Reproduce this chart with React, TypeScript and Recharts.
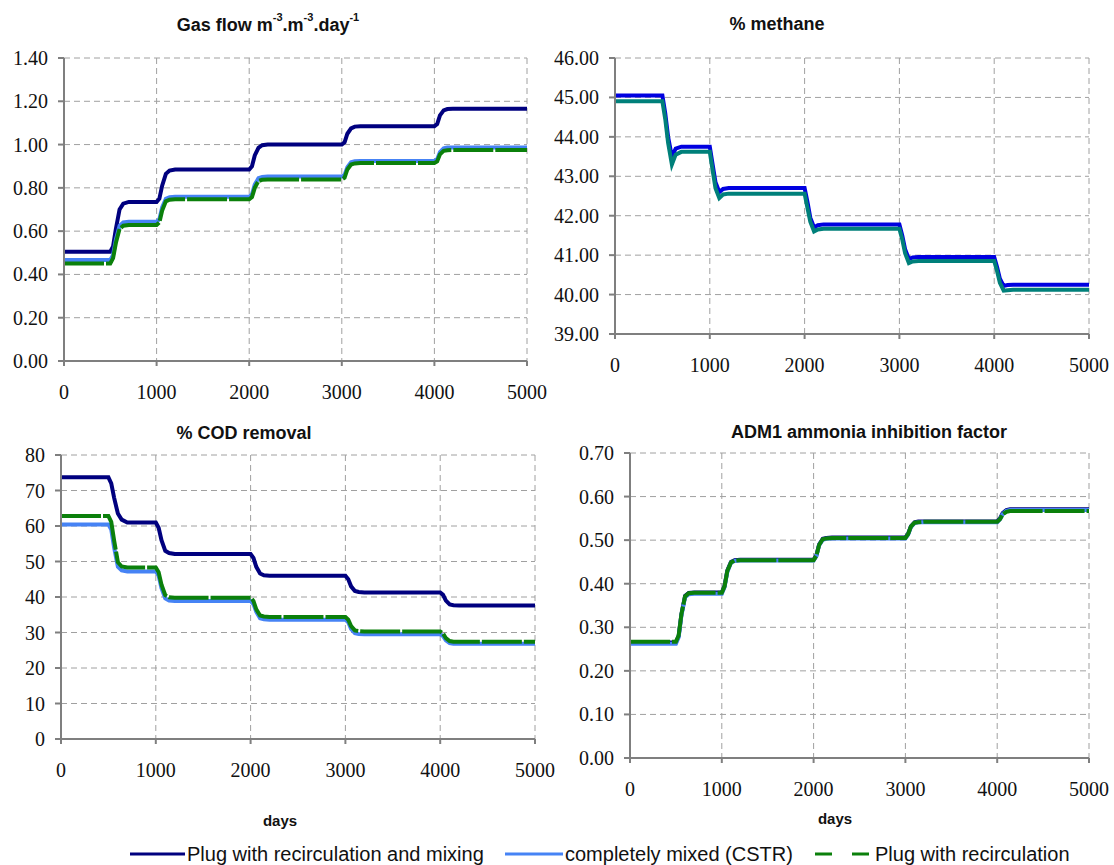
import { LineChart, Line, XAxis, YAxis, CartesianGrid } from 'recharts'

// time axis (days), shared by all four panels
const days = [0, 500, 530, 560, 600, 640, 700, 1000, 1030, 1060, 1100, 1140, 1200, 2000, 2030, 2060, 2100, 2140, 2200, 3000, 3030, 3060, 3100, 3140, 3200, 4000, 4030, 4060, 4100, 4140, 4200, 5000]

// Gas flow m-3.m-3.day-1
const gasMixing = [0.505, 0.505, 0.53, 0.61, 0.7, 0.727, 0.735, 0.735, 0.75, 0.81, 0.865, 0.88, 0.885, 0.885, 0.9, 0.95, 0.985, 0.997, 1.0, 1.0, 1.01, 1.05, 1.075, 1.083, 1.085, 1.085, 1.095, 1.135, 1.158, 1.164, 1.165, 1.165]
const gasCstr = [0.467, 0.467, 0.49, 0.56, 0.625, 0.64, 0.643, 0.643, 0.655, 0.71, 0.75, 0.757, 0.759, 0.759, 0.77, 0.815, 0.845, 0.85, 0.852, 0.852, 0.86, 0.895, 0.918, 0.923, 0.924, 0.924, 0.932, 0.965, 0.983, 0.986, 0.987, 0.987]
const gasPlug = [0.451, 0.451, 0.475, 0.545, 0.61, 0.625, 0.628, 0.628, 0.64, 0.695, 0.738, 0.745, 0.747, 0.747, 0.757, 0.8, 0.832, 0.837, 0.839, 0.839, 0.847, 0.885, 0.908, 0.913, 0.915, 0.915, 0.922, 0.955, 0.971, 0.974, 0.975, 0.975]

// % methane
const methaneMixing = [45.05, 45.05, 44.6, 44.0, 43.5, 43.7, 43.75, 43.75, 43.3, 42.85, 42.6, 42.68, 42.7, 42.7, 42.35, 41.95, 41.7, 41.76, 41.78, 41.78, 41.5, 41.15, 40.9, 40.94, 40.95, 40.95, 40.7, 40.4, 40.22, 40.24, 40.25, 40.25]
const methaneOther = [44.9, 44.9, 44.45, 43.85, 43.3, 43.55, 43.62, 43.62, 43.15, 42.7, 42.45, 42.54, 42.56, 42.56, 42.2, 41.85, 41.6, 41.65, 41.67, 41.67, 41.4, 41.05, 40.8, 40.84, 40.85, 40.85, 40.6, 40.3, 40.1, 40.11, 40.12, 40.12]

// % COD removal
const codMixing = [73.7, 73.7, 72.0, 68.0, 63.5, 61.8, 61.0, 61.0, 59.5, 56.0, 53.0, 52.4, 52.1, 52.1, 51.0, 48.5, 46.6, 46.1, 46.0, 46.0, 45.0, 43.0, 41.7, 41.4, 41.3, 41.3, 40.6, 39.0, 37.9, 37.7, 37.6, 37.6]
const codCstr = [60.4, 60.4, 59.0, 54.0, 48.5, 47.5, 47.2, 47.2, 46.0, 42.5, 39.6, 39.0, 38.9, 38.9, 38.0, 35.8, 34.0, 33.7, 33.6, 33.6, 32.9, 31.0, 29.8, 29.6, 29.5, 29.5, 29.0, 27.8, 27.0, 26.8, 26.8, 26.8]
const codPlug = [62.8, 62.8, 61.2, 56.0, 49.8, 48.6, 48.3, 48.3, 47.0, 43.5, 40.5, 39.9, 39.8, 39.8, 38.9, 36.5, 34.8, 34.5, 34.4, 34.4, 33.6, 31.8, 30.6, 30.4, 30.3, 30.3, 29.7, 28.4, 27.6, 27.4, 27.4, 27.4]

// ADM1 ammonia inhibition factor
const admMixing = [0.265, 0.265, 0.28, 0.33, 0.372, 0.379, 0.38, 0.38, 0.395, 0.43, 0.45, 0.454, 0.455, 0.455, 0.465, 0.49, 0.503, 0.505, 0.506, 0.506, 0.515, 0.532, 0.541, 0.543, 0.543, 0.543, 0.55, 0.562, 0.569, 0.571, 0.571, 0.571]
const admCstr = [0.262, 0.262, 0.277, 0.327, 0.369, 0.376, 0.377, 0.377, 0.392, 0.427, 0.448, 0.452, 0.453, 0.453, 0.463, 0.488, 0.501, 0.503, 0.504, 0.504, 0.513, 0.53, 0.539, 0.541, 0.541, 0.541, 0.548, 0.56, 0.567, 0.569, 0.569, 0.569]
const admPlug = [0.267, 0.267, 0.281, 0.33, 0.371, 0.378, 0.379, 0.379, 0.394, 0.429, 0.449, 0.453, 0.454, 0.454, 0.464, 0.489, 0.502, 0.504, 0.505, 0.505, 0.514, 0.531, 0.54, 0.541, 0.542, 0.542, 0.548, 0.559, 0.565, 0.567, 0.567, 0.567]

const dayTicks = [0, 1000, 2000, 3000, 4000, 5000]
const gasTicks = [0, 0.2, 0.4, 0.6, 0.8, 1.0, 1.2, 1.4]
const methaneTicks = [39, 40, 41, 42, 43, 44, 45, 46]
const codTicks = [0, 10, 20, 30, 40, 50, 60, 70, 80]
const admTicks = [0, 0.1, 0.2, 0.3, 0.4, 0.5, 0.6, 0.7]

const seriesNames = ['Plug with recirculation and mixing', 'completely mixed (CSTR)', 'Plug with recirculation']

const NAVY = '#00007f'
const LIGHT_BLUE = '#4683f5'
const GREEN = '#0b800b'
const METHANE_BLUE = '#0000e0'
const TEAL = '#00807a'
const AXIS = '#7f7f7f'
const SERIF = '"Liberation Serif", "DejaVu Serif", serif'
const SANS = '"Liberation Sans", Arial, sans-serif'

type Series = { key: string; values: number[]; color: string; dash?: string }

interface PanelProps {
  left: number
  top: number
  width: number
  height: number
  box: [number, number, number, number] // plot area in page px: x0, y0, x1, y1
  yDomain: [number, number]
  yTicks: number[]
  digits: number
  series: Series[]
}

// serif tick labels, drawn as plain svg text so the font sticks
function XTick({ x, y, payload }: any) {
  return (
    <text x={x} y={y} dy={15} textAnchor="middle" style={{ fontFamily: SERIF, fontSize: 20, fill: '#111' }}>
      {payload.value}
    </text>
  )
}

function makeYTick(digits: number) {
  return function YTick({ x, y, payload }: any) {
    return (
      <text x={x} y={y} dy={7} textAnchor="end" style={{ fontFamily: SERIF, fontSize: 20, fill: '#111' }}>
        {Number(payload.value).toFixed(digits)}
      </text>
    )
  }
}

function Panel({ left, top, width, height, box, yDomain, yTicks, digits, series }: PanelProps) {
  const [x0, y0, x1, y1] = box
  const xAxisH = 40
  const data = days.map((d, i) => {
    const row: Record<string, number> = { day: d }
    series.forEach((s) => (row[s.key] = s.values[i]))
    return row
  })
  const YTick = makeYTick(digits)

  return (
    <div style={{ position: 'absolute', left, top }}>
      <LineChart
        width={width}
        height={height}
        data={data}
        margin={{ top: y0 - top, right: left + width - x1, bottom: top + height - y1 - xAxisH, left: 0 }}
      >
        <CartesianGrid stroke="#a0a0a0" strokeDasharray="6 4" />
        <XAxis
          dataKey="day"
          type="number"
          domain={[0, 5000]}
          ticks={dayTicks}
          height={xAxisH}
          stroke={AXIS}
          strokeWidth={2}
          tickSize={5}
          tickMargin={18}
          tick={<XTick />}
          interval={0}
        />
        <XAxis xAxisId="top" orientation="top" dataKey="day" type="number" domain={[0, 5000]} height={0} tick={false} tickLine={false} stroke="#999" strokeWidth={2} />
        <YAxis
          type="number"
          domain={yDomain}
          ticks={yTicks}
          width={x0 - left}
          stroke={AXIS}
          strokeWidth={2}
          tickSize={6}
          tickMargin={10}
          tick={<YTick />}
          interval={0}
        />
        <YAxis yAxisId="right" orientation="right" width={0} tick={false} tickLine={false} stroke="#999" strokeWidth={2} />
        {series.map((s) => (
          <Line
            key={s.key}
            dataKey={s.key}
            type="linear"
            stroke={s.color}
            strokeWidth={4}
            strokeDasharray={s.dash}
            dot={false}
            isAnimationActive={false}
          />
        ))}
      </LineChart>
    </div>
  )
}

const titleStyle = (cx: number, cy: number): React.CSSProperties => ({
  position: 'absolute',
  left: cx - 200,
  top: cy - 11,
  width: 400,
  textAlign: 'center',
  fontFamily: SANS,
  fontWeight: 'bold',
  fontSize: 18,
  lineHeight: '22px',
  color: '#111',
  whiteSpace: 'nowrap',
})

const supStyle: React.CSSProperties = { fontSize: 11, verticalAlign: 'top', lineHeight: '12px', position: 'relative', top: -3 }

function LegendItem({ x, lineW, color, dashed, label }: { x: number; lineW: number; color: string; dashed?: boolean; label: string }) {
  return (
    <div style={{ position: 'absolute', left: x, top: 842, height: 24, display: 'flex', alignItems: 'center', whiteSpace: 'nowrap' }}>
      <svg width={lineW} height={10} style={{ display: 'block' }}>
        <line x1={0} y1={5} x2={lineW} y2={5} stroke={color} strokeWidth={3} strokeDasharray={dashed ? '17 20' : undefined} />
      </svg>
      <span style={{ fontFamily: SANS, fontSize: 20, color: '#111', marginLeft: 2, lineHeight: '24px' }}>{label}</span>
    </div>
  )
}

export default function App() {
  return (
    <div style={{ position: 'absolute', left: 0, top: 0, width: 1114, height: 865, background: '#fff', overflow: 'hidden' }}>
      <div style={titleStyle(268, 25)}>
        Gas flow m<span style={supStyle}>-3</span>.m<span style={supStyle}>-3</span>.day<span style={supStyle}>-1</span>
      </div>
      <div style={titleStyle(777, 24)}>% methane</div>
      <div style={titleStyle(244, 433)}>% COD removal</div>
      <div style={titleStyle(869, 432)}>ADM1 ammonia inhibition factor</div>

      <Panel
        left={0}
        top={40}
        width={552}
        height={380}
        box={[64, 58, 527, 361]}
        yDomain={[0, 1.4]}
        yTicks={gasTicks}
        digits={2}
        series={[
          { key: 'mix', values: gasMixing, color: NAVY },
          { key: 'cstr', values: gasCstr, color: LIGHT_BLUE },
          { key: 'plug', values: gasPlug, color: GREEN, dash: '40 2' },
        ]}
      />
      <Panel
        left={552}
        top={40}
        width={562}
        height={380}
        box={[615, 58, 1089, 334]}
        yDomain={[39, 46]}
        yTicks={methaneTicks}
        digits={2}
        series={[
          { key: 'mix', values: methaneMixing, color: METHANE_BLUE },
          { key: 'other', values: methaneOther, color: TEAL },
        ]}
      />
      <Panel
        left={0}
        top={440}
        width={560}
        height={350}
        box={[61, 455, 535, 739]}
        yDomain={[0, 80]}
        yTicks={codTicks}
        digits={0}
        series={[
          { key: 'mix', values: codMixing, color: NAVY },
          { key: 'cstr', values: codCstr, color: LIGHT_BLUE },
          { key: 'plug', values: codPlug, color: GREEN, dash: '40 2' },
        ]}
      />
      <Panel
        left={552}
        top={440}
        width={562}
        height={370}
        box={[630, 453, 1089, 758]}
        yDomain={[0, 0.7]}
        yTicks={admTicks}
        digits={2}
        series={[
          { key: 'mix', values: admMixing, color: NAVY },
          { key: 'cstr', values: admCstr, color: LIGHT_BLUE },
          { key: 'plug', values: admPlug, color: GREEN, dash: '40 2' },
        ]}
      />

      <div style={{ position: 'absolute', left: 230, top: 812, width: 100, textAlign: 'center', fontFamily: SANS, fontWeight: 'bold', fontSize: 15, color: '#111' }}>days</div>
      <div style={{ position: 'absolute', left: 785, top: 810, width: 100, textAlign: 'center', fontFamily: SANS, fontWeight: 'bold', fontSize: 15, color: '#111' }}>days</div>

      <LegendItem x={130} lineW={55} color={NAVY} label={seriesNames[0]} />
      <LegendItem x={505} lineW={58} color={LIGHT_BLUE} label={seriesNames[1]} />
      <LegendItem x={815} lineW={58} color={GREEN} dashed label={seriesNames[2]} />
    </div>
  )
}
